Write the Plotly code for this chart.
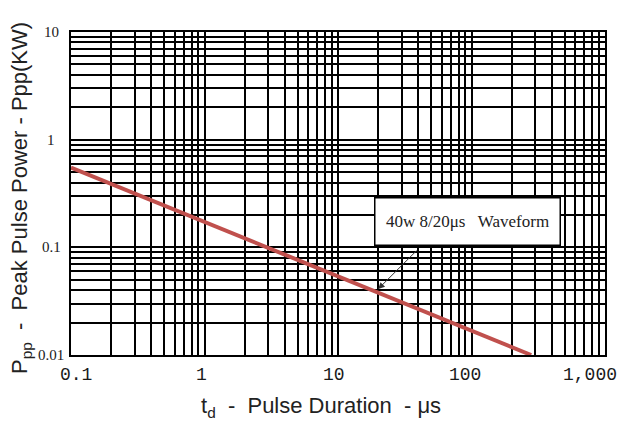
import numpy as np
import plotly.graph_objects as go

# Data
pulse_us = [0.1, 280]
power_kw = [0.55, 0.01]
x_tickvals = [0.1, 1, 10, 100, 1000]
x_ticktext = ["0.1", "1", "10", "100", "1,000"]
y_tickvals = [0.01, 0.1, 1, 10]
y_ticktext = ["0.01", "0.1", "1", "10"]
label_text = "40w 8/20μs   Waveform"
arrow_point = (20, 0.041)

L, R, T, B = 71, 13, 32, 68
W, H = 618, 423
pw, ph = W - L - R, H - T - B

fig = go.Figure()
fig.add_trace(go.Scatter(x=pulse_us, y=power_kw, mode="lines",
                         line=dict(color="#c0504d", width=4), showlegend=False))

common = dict(showgrid=True, gridcolor="black", gridwidth=1.5,
              minor=dict(showgrid=True, gridcolor="black", gridwidth=1.5, dtick="D1", ticks=""),
              showline=True, linecolor="black", linewidth=1.5, mirror=True,
              ticks="", zeroline=False, showticklabels=False)
fig.update_xaxes(type="log", range=[-1, 3], tickvals=x_tickvals, **common)
fig.update_yaxes(type="log", range=[-2, 1], tickvals=y_tickvals, **common)

# x tick labels
x_shift = [5, -3, -4, -7, -15]
for v, t, s in zip(x_tickvals, x_ticktext, x_shift):
    fig.add_annotation(x=np.log10(v), y=-2, xref="x", yref="y", text=t, showarrow=False,
                       xanchor="center", yanchor="top", yshift=-8, xshift=s,
                       font=dict(family="Liberation Mono", size=18, color="#1a1a1a"))
# y tick labels
for v, t in zip(y_tickvals, y_ticktext):
    fig.add_annotation(x=-1, y=np.log10(v), xref="x", yref="y", text=t,
                       showarrow=False, xanchor="center", yanchor="middle", xshift=-20,
                       font=dict(family="Liberation Serif", size=15, color="#1a1a1a"))

fig.add_annotation(x=np.log10(94), y=-0.756, xref="x", yref="y", text=label_text,
                   showarrow=False, font=dict(family="Liberation Serif", size=17, color="#222"),
                   bgcolor="white", bordercolor="black", borderwidth=1.5,
                   xanchor="center", yanchor="middle",
                   width=182, height=44, align="center")
fig.add_annotation(x=np.log10(arrow_point[0]), y=np.log10(arrow_point[1]), xref="x", yref="y",
                   text="", showarrow=True, arrowhead=2, arrowsize=1.3, arrowwidth=1,
                   arrowcolor="#333", ax=40, ay=-40, axref="pixel", ayref="pixel")

fig.add_annotation(x=(321 - L) / pw, y=-(407 - 355) / ph, xref="paper", yref="paper",
                   xanchor="center", yanchor="middle",
                   text="t<sub>d</sub>  -  Pulse Duration  - μs",
                   showarrow=False, font=dict(family="Liberation Sans", size=22, color="#222"))
fig.add_annotation(x=-(L - 21) / pw, y=(355 - 198) / ph, xref="paper", yref="paper",
                   xanchor="center", yanchor="middle",
                   text="P<sub>pp</sub>  -  Peak Pulse Power - Ppp(KW)", textangle=-90,
                   showarrow=False, font=dict(family="Liberation Sans", size=22, color="#222"))

fig.update_layout(width=W, height=H, margin=dict(l=L, r=R, t=T, b=B),
                  plot_bgcolor="white", paper_bgcolor="white")
fig.write_html("out.html")
